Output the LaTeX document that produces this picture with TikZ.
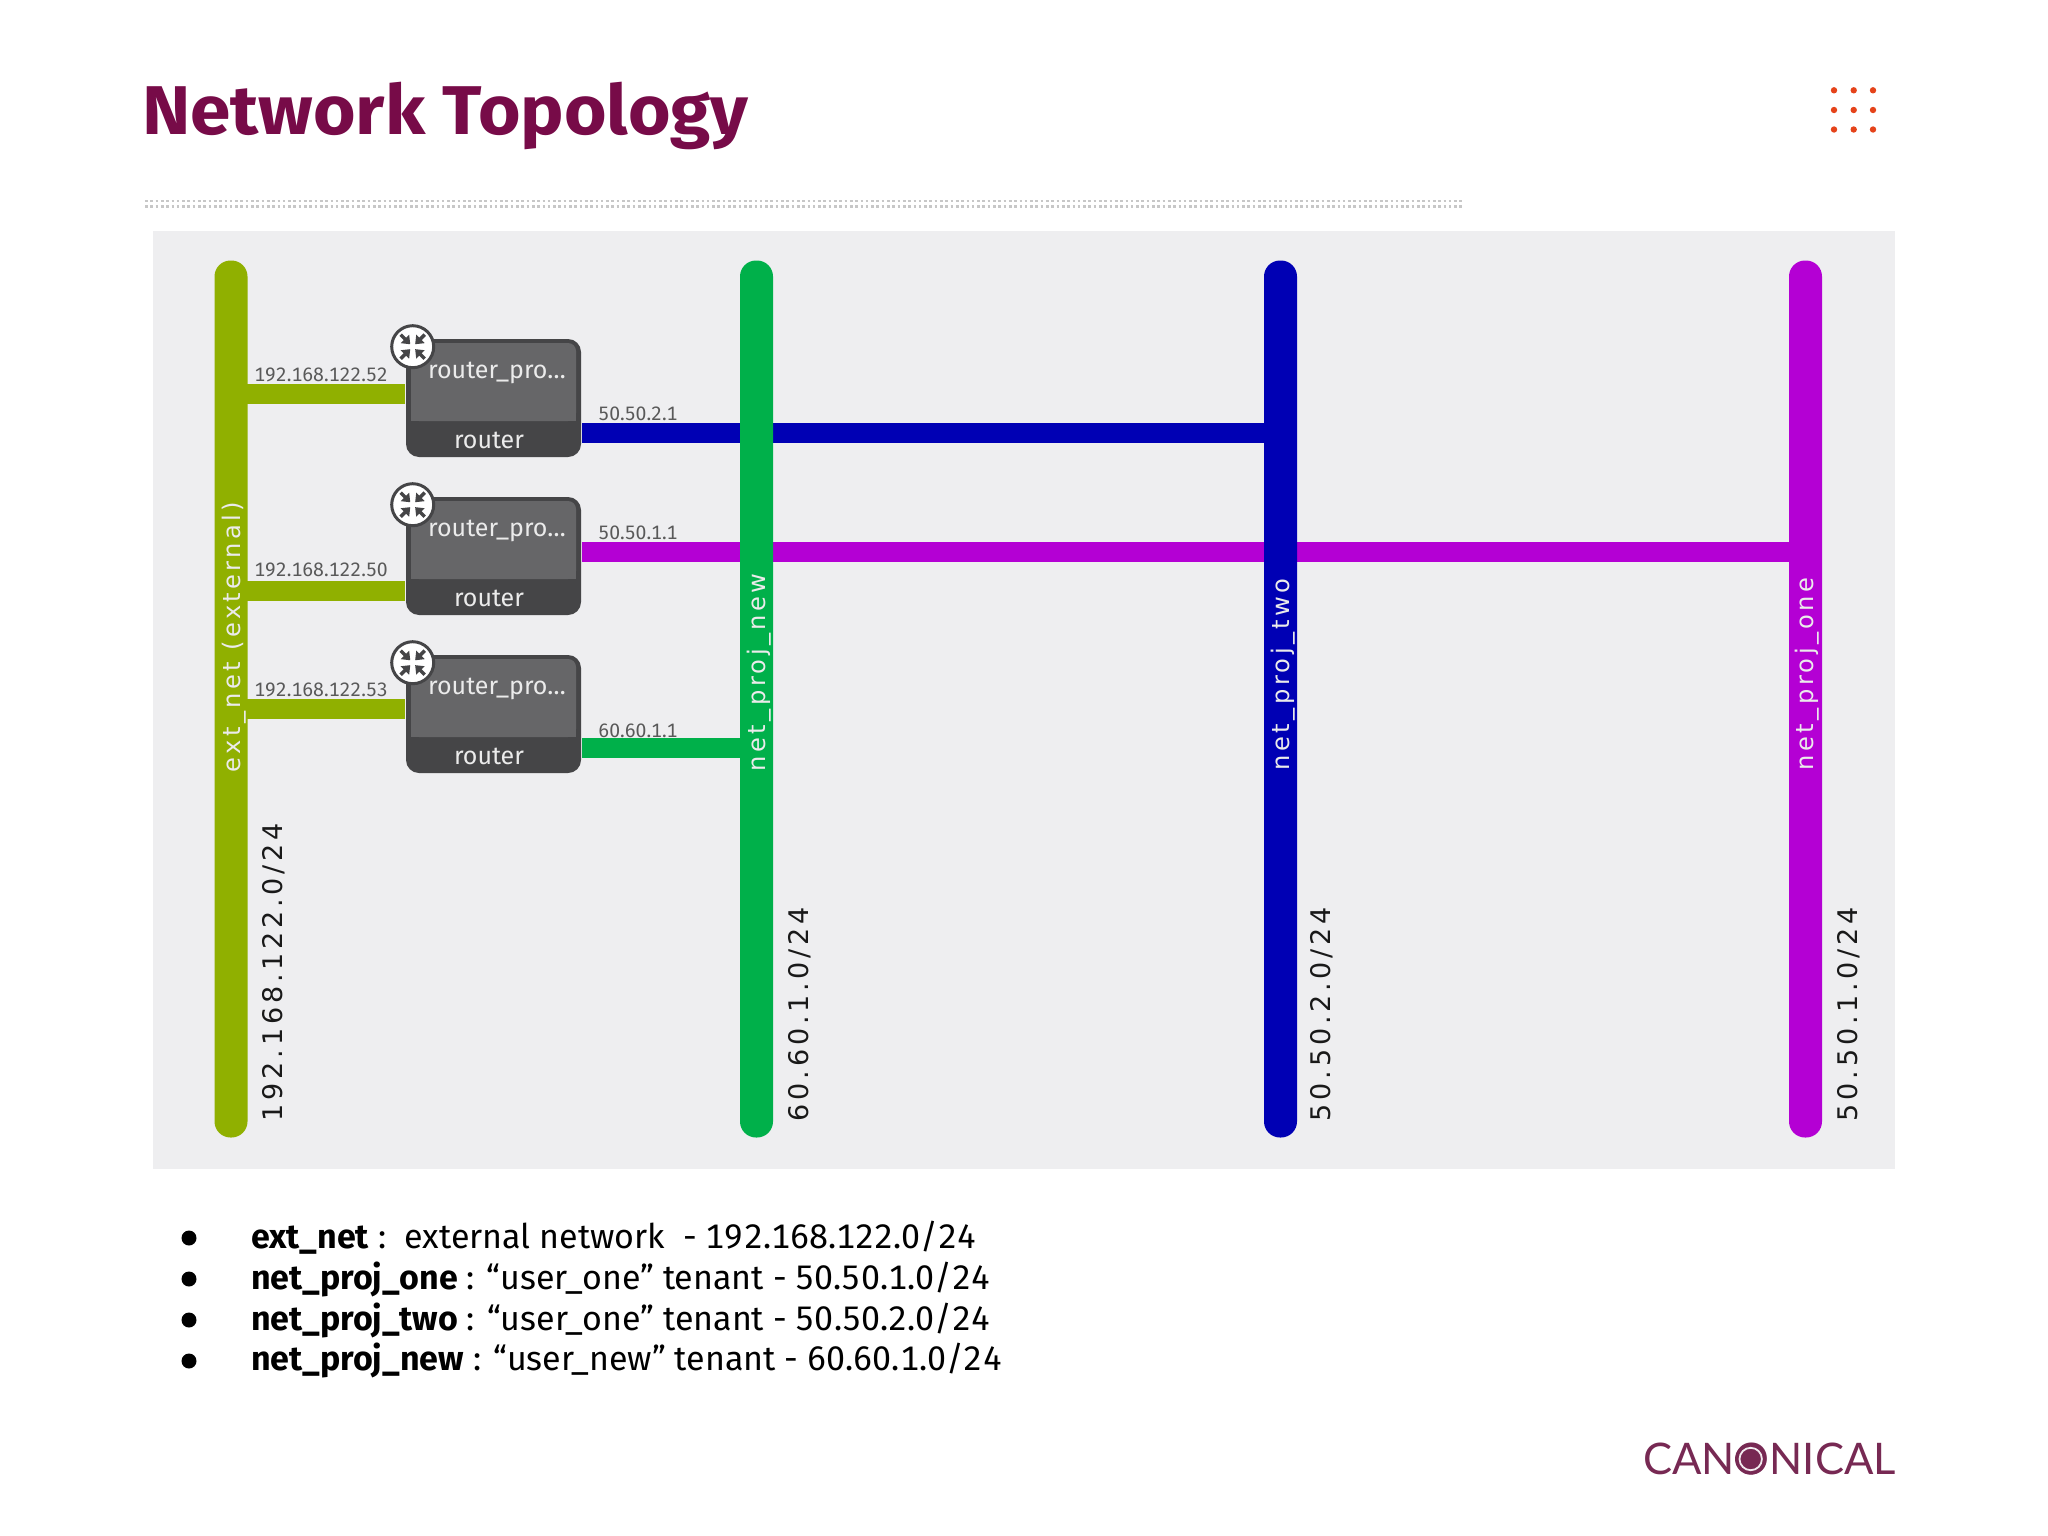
\documentclass[tikz,border=0pt]{standalone}
\usepackage{fontspec}
\setmainfont{Fira Sans}[Numbers=Monospaced]
\newfontfamily\barfont{DejaVu Sans}
\newfontfamily\logofont{Lato}
\usetikzlibrary{calc}
\definecolor{aubergine}{HTML}{770B48}
\definecolor{logocol}{HTML}{772953}
\definecolor{panelbg}{HTML}{EEEEF0}
\definecolor{olive}{HTML}{90B000}
\definecolor{netgreen}{HTML}{00B04A}
\definecolor{netblue}{HTML}{0000B4}
\definecolor{netpurple}{HTML}{B400D4}
\definecolor{boxdark}{HTML}{454547}
\definecolor{boxlight}{HTML}{666668}
\definecolor{dotred}{HTML}{E5431A}
\tikzset{
  x=1pt, y=-1pt,
  every node/.style={inner sep=0pt, outer sep=0pt},
  bar/.style={rounded corners=16pt, minimum width=33pt, minimum height=877pt},
  link/.style={line width=20pt, line cap=butt},
  rule/.style={black!22, line width=2.5pt, dash pattern=on 2.6pt off 2.7pt},
  iplabel/.style={text=black!65, font=\fontsize{19.4}{19.4}\selectfont, anchor=base},
  barlabel/.style={rotate=90, anchor=base west, text=white!92!black, font=\barfont\fontsize{24.2}{24.2}\selectfont\addfontfeature{LetterSpace=14}},
  cidr/.style={rotate=90, anchor=base west, text=black!90, font=\barfont\fontsize{27}{27}\selectfont\addfontfeature{LetterSpace=14}},
  routertext/.style={text=white!92!black, anchor=base, font=\fontsize{25}{25}\selectfont},
  listline/.style={anchor=base west, text=black, font=\fontsize{34}{34}\selectfont},
}
% one router box, #1 = name, #2 = top edge
\newcommand{\routerbox}[2]{
  \fill[boxdark, rounded corners=13pt] (406,#2) rectangle (581,#2+118);
  \fill[boxlight, rounded corners=8pt] (411,#2+82) -- (411,#2+4) -- (576,#2+4) -- (576,#2+82) -- cycle;
  \fill[boxlight] (411,#2+70) rectangle (576,#2+82);
  \node[routertext] (#1name) at (497,#2+39) {router\_pro\ldots};
  \node[routertext] (#1kind) at (489,#2+109) {router};
  \node[circle, draw=boxdark, line width=3pt, fill=white, minimum size=42pt] (#1icon) at (412.7,#2+7.7) {};
  \foreach \a in {45,135,225,315}{
    \draw[boxdark, line width=3.5pt] ($(#1icon)+(\a:17)$) -- ($(#1icon)+(\a:9)$);
    \fill[boxdark] ($(#1icon)+(\a:3.5)$) -- ($(#1icon)+(\a:11)+(\a+90:6)$) -- ($(#1icon)+(\a:11)+(\a-90:6)$) -- cycle;
  }
}
\begin{document}
\begin{tikzpicture}
\useasboundingbox (0,0) rectangle (2048,1536);
\fill[white] (0,0) rectangle (2048,1536);

% header
\node[anchor=base west, text=aubergine, font=\bfseries\fontsize{69}{69}\selectfont\addfontfeature{FakeStretch=1.057}] (title) at (142,134.5) {Network Topology};
\draw[rule] (145,201) -- (1462,201);
\draw[rule] (145,206.5) -- (1462,206.5);
\foreach \px in {1834,1853.7,1873}
  \foreach \py in {90.3,110,129.5}
    \fill[dotred] (\px,\py) circle (3.2);

% panel
\fill[panelbg] (153,231) rectangle (1895,1169);

% link ends at the router sides
\coordinate (aw) at (405,393.5);
\coordinate (bw) at (405,591);
\coordinate (cw) at (405,709);
\coordinate (ae) at (582,432.7);
\coordinate (be) at (582,552);
\coordinate (ce) at (582,748);

% networks, drawn over the links
\coordinate (extpos) at (231,699);
\coordinate (newpos) at (756.5,699);
\coordinate (twopos) at (1280.5,699);
\coordinate (onepos) at (1805.5,699);
\path (extpos) node[bar] (ext) {} (newpos) node[bar] (new) {} (twopos) node[bar] (two) {} (onepos) node[bar] (one) {};
\draw[link, olive] (ext.center |- aw) -- (aw);
\draw[link, olive] (ext.center |- bw) -- (bw);
\draw[link, olive] (ext.center |- cw) -- (cw);
\draw[link, netblue] (ae) -- (two.center |- ae);
\draw[link, netpurple] (be) -- (one.center |- be);
\draw[link, netgreen] (ce) -- (new.center |- ce);
\node[bar, fill=olive] at (extpos) {};
\node[bar, fill=netgreen] at (newpos) {};
\node[bar, fill=netblue] at (twopos) {};
\node[bar, fill=netpurple] at (onepos) {};

% names on the bars
\node[barlabel] (extname) at (240,772) {ext\_net (external)};
\node[barlabel] (newname) at (765,771) {net\_proj\_new};
\node[barlabel] (twoname) at (1289,770) {net\_proj\_two};
\node[barlabel] (onename) at (1813,770) {net\_proj\_one};

% subnets beside the bars
\node[cidr] (extnet) at (282.5,1121) {192.168.122.0/24};
\node[cidr] (newnet) at (808.5,1121) {60.60.1.0/24};
\node[cidr] (twonet) at (1330.5,1121) {50.50.2.0/24};
\node[cidr] (onenet) at (1857,1121) {50.50.1.0/24};

% routers
\routerbox{ra}{339}
\routerbox{rb}{497}
\routerbox{rc}{655}

% addresses
\node[iplabel] (ipa) at (321,381) {192.168.122.52};
\node[iplabel] (ipb) at (321,576.5) {192.168.122.50};
\node[iplabel] (ipc) at (321,696.5) {192.168.122.53};
\node[iplabel] (ipd) at (638,420.5) {50.50.2.1};
\node[iplabel] (ipe) at (638,539) {50.50.1.1};
\node[iplabel] (ipf) at (638,737) {60.60.1.1};

% list under the panel
\foreach \yy in {1238,1279,1320,1361}
  \fill[black] (189,\yy) circle (7.5);
\node[listline] (la) at (251,1248) {\textbf{ext\_net} :\ \ external network\ \ - 192.168.122.0/24};
\node[listline] (lb) at (251,1289) {\textbf{net\_proj\_one} : “user\_one” tenant - 50.50.1.0/24};
\node[listline] (lc) at (251,1330) {\textbf{net\_proj\_two} : “user\_one” tenant - 50.50.2.0/24};
\node[listline] (ld) at (251,1370) {\textbf{net\_proj\_new} : “user\_new” tenant - 60.60.1.0/24};

% logo, the O is covered by the ring mark
\node[anchor=base west, text=logocol, font=\logofont\fontsize{43.5}{43.5}\selectfont] (logo) at (1643,1474.7) {CANONICAL};
\fill[logocol] (1750.7,1459) circle (15.7);
\draw[white!90!logocol, line width=1.8pt] (1750.7,1459) circle (11.2);

\end{tikzpicture}
\end{document}
